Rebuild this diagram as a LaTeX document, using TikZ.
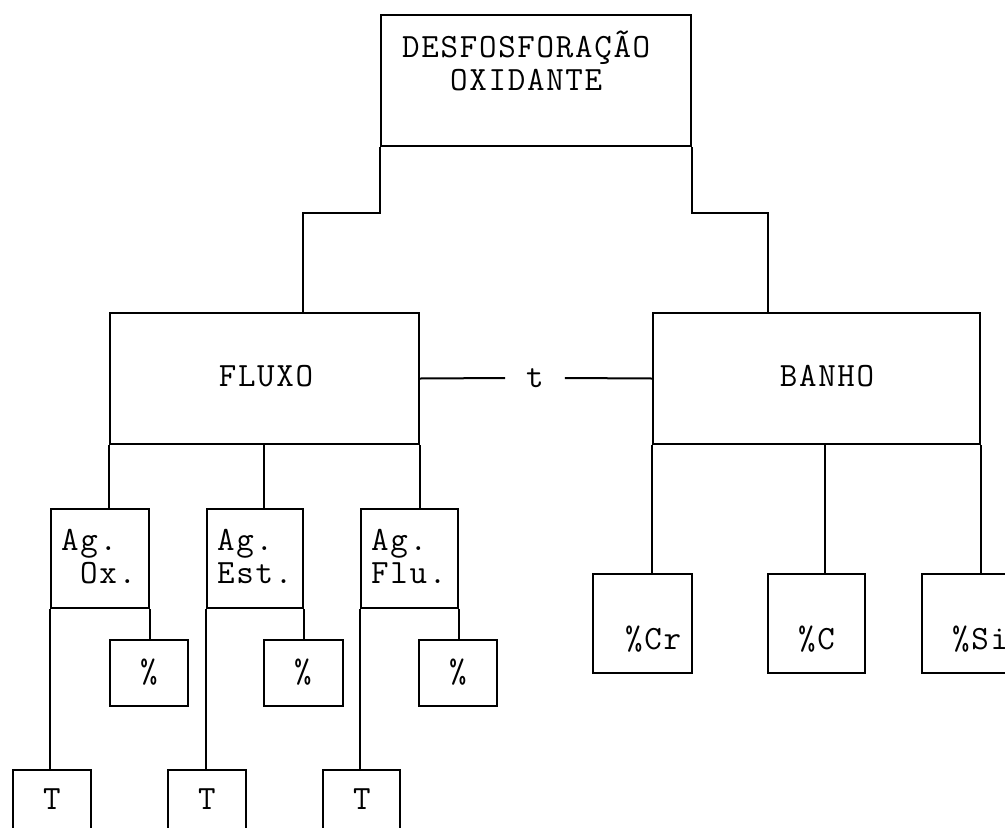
\documentclass[tikz,border=0pt]{standalone}
\usepackage{fontspec}
\newfontfamily\tx[LetterSpace=5]{Latin Modern Mono}
\begin{document}
\begin{tikzpicture}[x=1pt,y=-1pt,
  box/.style={draw, line width=2pt, rectangle, inner sep=0pt, anchor=north west},
  txt/.style={font=\tx\fontsize{34pt}{36pt}\selectfont, inner sep=0pt},
  con/.style={line width=2pt}]
\useasboundingbox (0,0) rectangle (1005,828);
\clip (0,0) rectangle (1005,828);
% boxes
\node[box, minimum width=310pt, minimum height=131pt] (top) at (380,14) {};
\node[box, minimum width=309pt, minimum height=131pt] (fluxo) at (109,312) {};
\node[box, minimum width=327pt, minimum height=131pt] (banho) at (652,312) {};
\node[box, minimum width=98pt, minimum height=99pt] (agox) at (50,508) {};
\node[box, minimum width=96pt, minimum height=99pt] (agest) at (206,508) {};
\node[box, minimum width=97pt, minimum height=99pt] (agflu) at (360,508) {};
\node[box, minimum width=78pt, minimum height=66pt] (p1) at (109,639) {};
\node[box, minimum width=79pt, minimum height=66pt] (p2) at (263,639) {};
\node[box, minimum width=78pt, minimum height=66pt] (p3) at (418,639) {};
\node[box, minimum width=78pt, minimum height=80pt] (t1) at (12,769) {};
\node[box, minimum width=78pt, minimum height=80pt] (t2) at (167,769) {};
\node[box, minimum width=77pt, minimum height=80pt] (t3) at (322,769) {};
\node[box, minimum width=99pt, minimum height=99pt] (cr) at (592,573) {};
\node[box, minimum width=97pt, minimum height=99pt] (cc) at (767,573) {};
\node[box, minimum width=99pt, minimum height=99pt] (si) at (921,573) {};
% texts
\node[txt, anchor=base west] (tl1) at (402,57) {DESFOSFORAÇÃO};
\node[txt, anchor=base west] (tl2) at (450,90) {OXIDANTE};
\node[txt, anchor=base] (fl) at (266,386) {FLUXO};
\node[txt, anchor=base] (bl) at (827,386) {BANHO};
\node[txt, inner xsep=21pt] (tt) at (535,378) {t};
\node[txt, anchor=base west] (a1) at (61,550) {Ag.};
\node[txt, anchor=base west] (a1b) at (80,583) {Ox.};
\node[txt, anchor=base west] (a2) at (217,550) {Ag.};
\node[txt, anchor=base west] (a2b) at (217,583) {Est.};
\node[txt, anchor=base west] (a3) at (371,550) {Ag.};
\node[txt, anchor=base west] (a3b) at (371,583) {Flu.};
\node[txt, anchor=base] (pl1) at (149,682) {\%};
\node[txt, anchor=base] (pl2) at (303,682) {\%};
\node[txt, anchor=base] (pl3) at (458,682) {\%};
\node[txt, anchor=base] (tx1) at (52,809) {T};
\node[txt, anchor=base] (tx2) at (207,809) {T};
\node[txt, anchor=base] (tx3) at (362,809) {T};
\node[txt, anchor=base west] (crl) at (625,649) {\%Cr};
\node[txt, anchor=base west] (ccl) at (798,649) {\%C};
\node[txt, anchor=base west] (sil) at (952,649) {\%Si};
% connectors
\draw[con] (top.south west) -- ++(0,66) -| ([xshift=194pt]fluxo.north west);
\draw[con] (top.south east) -- ++(0,66) -| ([xshift=116pt]banho.north west);
\draw[con] (fluxo.east) -- (tt.west);
\draw[con] (tt.east) -- (banho.west);
\draw[con] (fluxo.south west) -- (fluxo.south west |- agox.north);
\draw[con] ([xshift=155pt]fluxo.south west) -- ([xshift=155pt]fluxo.south west |- agest.north);
\draw[con] (fluxo.south east) -- (fluxo.south east |- agflu.north);
\draw[con] (agox.south west) -- (agox.south west |- t1.north);
\draw[con] (agox.south east) -- (agox.south east |- p1.north);
\draw[con] (agest.south west) -- (agest.south west |- t2.north);
\draw[con] (agest.south east) -- (agest.south east |- p2.north);
\draw[con] (agflu.south west) -- (agflu.south west |- t3.north);
\draw[con] (agflu.south east) -- (agflu.south east |- p3.north);
\draw[con] (banho.south west) -- (banho.south west |- cr.north);
\draw[con] ([xshift=173pt]banho.south west) -- ([xshift=173pt]banho.south west |- cc.north);
\draw[con] (banho.south east) -- (banho.south east |- si.north);
\end{tikzpicture}
\end{document}
